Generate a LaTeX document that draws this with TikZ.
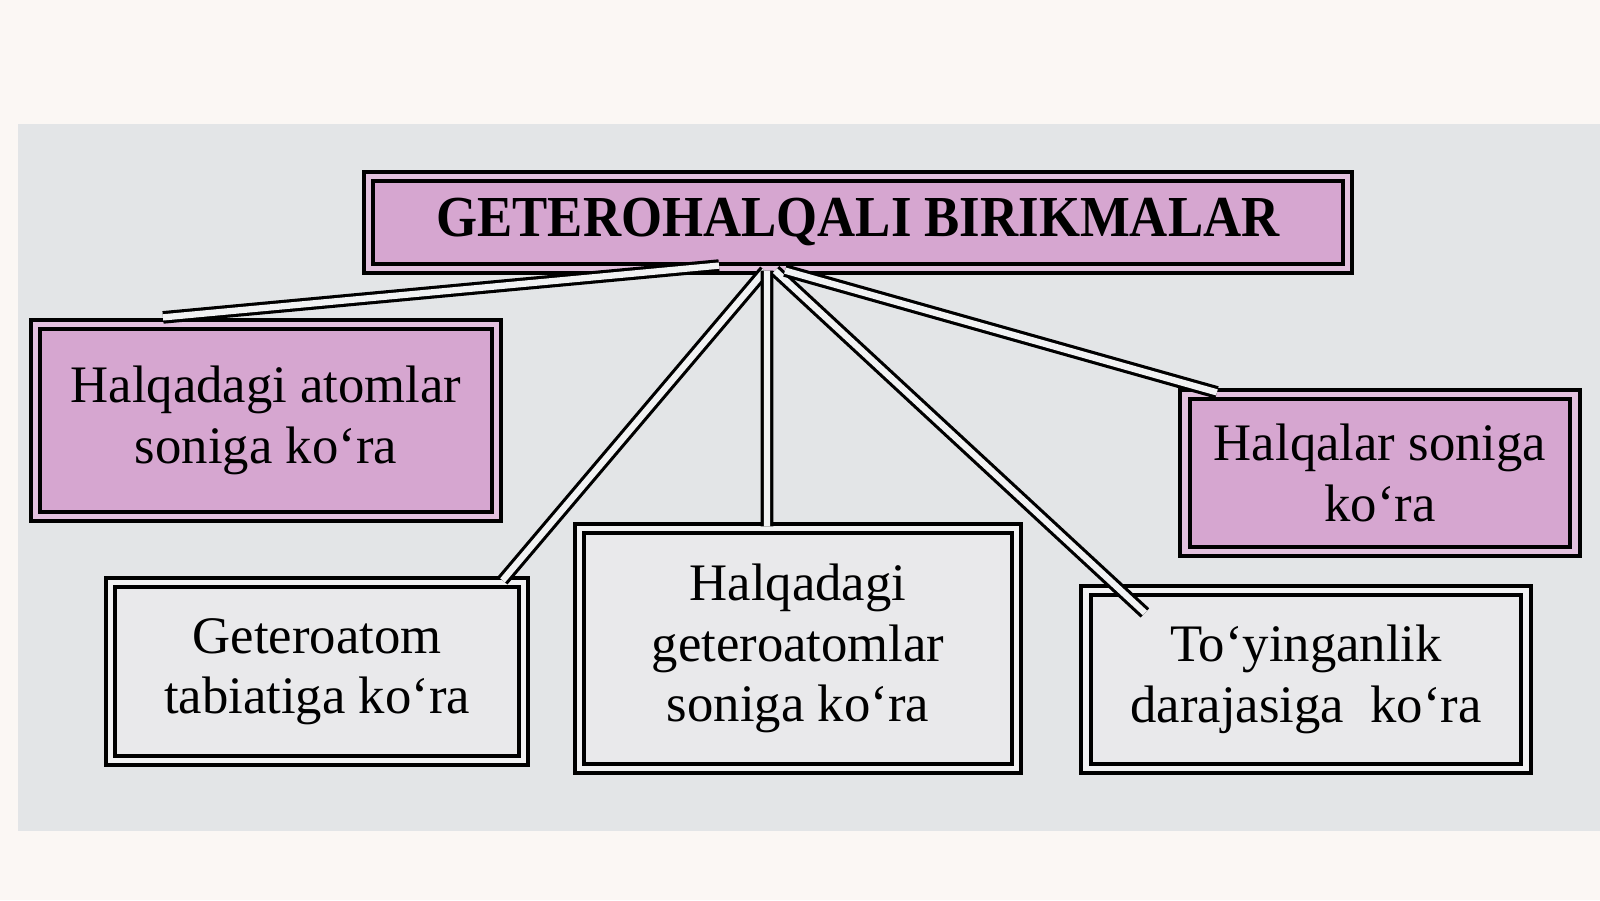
\documentclass[tikz,border=0pt]{standalone}
\usepackage{fontspec}
\setmainfont{Liberation Serif}
\newfontfamily\titlefont[FakeStretch=0.91]{Liberation Serif}
\definecolor{paper}{RGB}{251,247,244}
\definecolor{panel}{RGB}{227,229,231}
\definecolor{pinkfill}{RGB}{214,166,208}
\definecolor{greyfill}{RGB}{233,233,235}
\tikzset{box/.style = {shape=rectangle,draw,line width=1.2pt,double distance=1.5pt,align=center,inner sep=2pt,font=\fontsize{15}{17.2}\selectfont}}
\tikzset{pinkbox/.style = {box,fill=pinkfill,double=pinkfill!70!white}}
\tikzset{greybox/.style = {box,fill=greyfill,double=greyfill!60!white}}
\tikzset{link/.style = {draw,line width=0.9pt,double=panel!50!white,double distance=1.8pt}}

\begin{document}
\begin{tikzpicture}
          \useasboundingbox (0,0) rectangle (16,9);
          \fill[paper] (0,0) rectangle (16,9);
          \fill[panel] (0.18,0.69) rectangle (16,7.76);

          \node[pinkbox, minimum width=9.79cm, minimum height=0.92cm] (top) at (8.58, 6.775) {\titlefont\bfseries\fontsize{16.5}{18}\selectfont GETEROHALQALI BIRIKMALAR};
          \node[pinkbox, minimum width=4.61cm, minimum height=1.92cm] (atoms) at (2.66, 4.795) {Halqadagi atomlar\\soniga ko‘ra};
          \node[pinkbox, minimum width=3.90cm, minimum height=1.57cm] (rings) at (13.80, 4.27) {Halqalar soniga\\ko‘ra};
          \node[greybox, minimum width=4.13cm, minimum height=1.78cm] (nature) at (3.17, 2.285) {Geteroatom\\tabiatiga ko‘ra};
          \node[greybox, minimum width=4.37cm, minimum height=2.40cm] (count) at (7.98, 2.515) {Halqadagi\\geteroatomlar\\soniga ko‘ra};
          \node[greybox, minimum width=4.40cm, minimum height=1.78cm] (satur) at (13.06, 2.205) {To‘yinganlik\\darajasiga\ \ ko‘ra};

          \coordinate (saturend) at ([shift={(0.61,-0.245)}]satur.north west);

          \path ([xshift=-13.9mm, yshift=0.5mm]top.south) edge[link] ([xshift=-10.3mm, yshift=0.5mm]atoms.north);
          \path ([xshift=-9.3mm]top.south) edge[link] ([xshift=-2.3mm]nature.north east);
          \path ([xshift=-9.1mm]top.south) edge[link] ([xshift=-3.1mm]count.north);
          \path ([xshift=-8.3mm]top.south) edge[link] (saturend);
          \path ([xshift=-7.3mm]top.south) edge[link] ([xshift=3.4mm]rings.north west);
        \end{tikzpicture}
\end{document}
